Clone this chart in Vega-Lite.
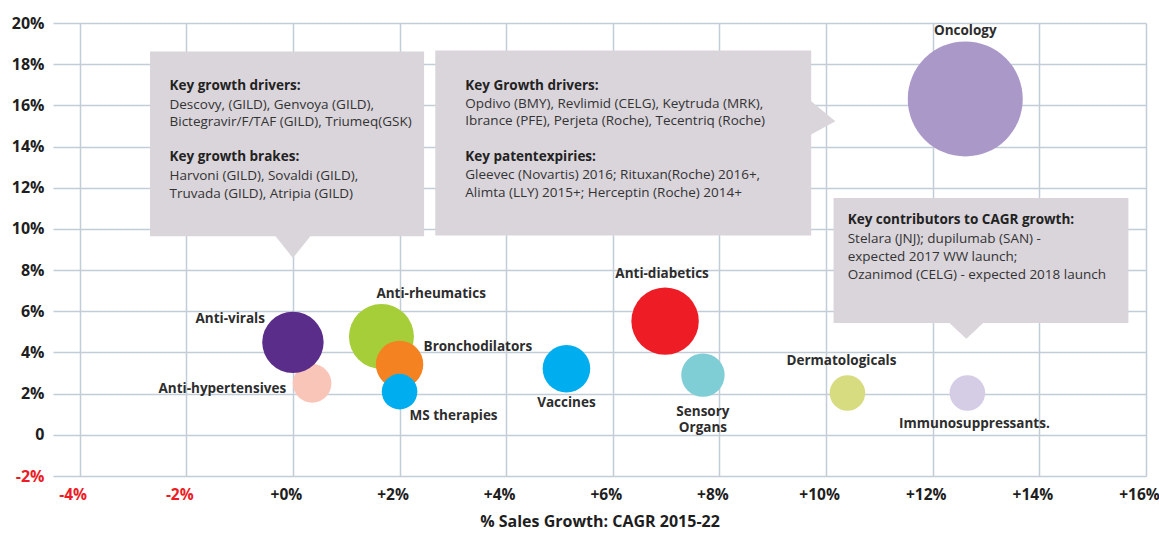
{
  "$schema": "https://vega.github.io/schema/vega-lite/v6.json",
  "autosize": {"type": "none"},
  "padding": {"left": 53, "top": 23, "right": 13, "bottom": 58},
  "width": 1093,
  "height": 453,
  "config": {"view": {"stroke": null}, "font": "Open Sans"},
  "data": {
    "values": [
      {"name": "Anti-hypertensives", "cagr": 0.36, "growth": 2.5, "sales": 37.2},
      {"name": "Anti-virals", "cagr": 0.0, "growth": 4.49, "sales": 94.2},
      {"name": "Anti-rheumatics", "cagr": 1.66, "growth": 4.77, "sales": 105.6},
      {"name": "Bronchodilators", "cagr": 2.0, "growth": 3.42, "sales": 56.2},
      {"name": "MS therapies", "cagr": 2.0, "growth": 2.1, "sales": 31.7},
      {"name": "Vaccines", "cagr": 5.13, "growth": 3.21, "sales": 56.6},
      {"name": "Anti-diabetics", "cagr": 6.98, "growth": 5.52, "sales": 113.6},
      {"name": "Sensory Organs", "cagr": 7.69, "growth": 2.9, "sales": 47.1},
      {"name": "Dermatologicals", "cagr": 10.4, "growth": 2.03, "sales": 31.7},
      {"name": "Immunosuppressants.", "cagr": 12.65, "growth": 2.03, "sales": 31.7},
      {"name": "Oncology", "cagr": 12.61, "growth": 16.31, "sales": 330.6}
    ]
  },
  "layer": [
    {
      "mark": {"type": "circle", "opacity": 1},
      "encoding": {
        "x": {
          "field": "cagr", "type": "quantitative",
          "scale": {"domain": [-4.5, 16], "nice": false, "zero": false},
          "axis": {
            "values": [-4, -2, 0, 2, 4, 6, 8, 10, 12, 14, 16],
            "labelExpr": "datum.value < 0 ? datum.value + '%' : '+' + datum.value + '%'",
            "labelColor": {"condition": {"test": "datum.value < 0", "value": "#ed1c24"}, "value": "#1e1e1e"},
            "labelFont": "Open Sans", "labelFontSize": 15.5, "labelFontWeight": "bold",
            "labelPadding": 11, "labelOffset": -7, "labelFlush": false, "labelOverlap": false, "labelBound": false,
            "domain": false, "ticks": false,
            "grid": true, "gridColor": "#c3cdd7", "gridWidth": 1.5,
            "title": "% Sales Growth: CAGR 2015-22",
            "titleFont": "Open Sans", "titleFontSize": 16, "titleFontWeight": "bold", "titleColor": "#1e1e1e",
            "titlePadding": 11
          }
        },
        "y": {
          "field": "growth", "type": "quantitative",
          "scale": {"domain": [-2, 20], "nice": false, "zero": false},
          "axis": {
            "values": [-2, 0, 2, 4, 6, 8, 10, 12, 14, 16, 18, 20],
            "labelExpr": "datum.value == 0 ? '0' : datum.value + '%'",
            "labelColor": {"condition": {"test": "datum.value < 0", "value": "#ed1c24"}, "value": "#1e1e1e"},
            "labelFont": "Open Sans", "labelFontSize": 16, "labelFontWeight": "bold",
            "labelPadding": 9, "labelFlush": false, "labelOverlap": false,
            "domain": false, "ticks": false,
            "grid": true, "gridColor": "#c3cdd7", "gridWidth": 1.5,
            "title": null
          }
        },
        "size": {
          "field": "sales", "type": "quantitative",
          "scale": {"type": "linear", "domain": [0, 100], "range": [0, 4000]},
          "legend": null
        },
        "color": {
          "field": "name", "type": "nominal", "legend": null,
          "scale": {
            "domain": ["Anti-hypertensives", "Anti-virals", "Anti-rheumatics", "Bronchodilators", "MS therapies", "Vaccines", "Anti-diabetics", "Sensory Organs", "Dermatologicals", "Immunosuppressants.", "Oncology"],
            "range": ["#f9c5b8", "#5a2d8a", "#a6ce39", "#f58220", "#00aeef", "#00aeef", "#ee1c25", "#7fcdd5", "#d7dc80", "#d5cce6", "#aa98c9"]
          }
        }
      }
    },
    {
      "transform": [{"filter": "datum.name == 'Anti-virals'"}],
      "mark": {"type": "text", "align": "right", "baseline": "middle", "dx": -28, "dy": -23, "fontSize": 13.5, "fontWeight": "bold", "color": "#2d2d2d"},
      "encoding": {"x": {"field": "cagr", "type": "quantitative"}, "y": {"field": "growth", "type": "quantitative"}, "text": {"field": "name"}}
    },
    {
      "transform": [{"filter": "datum.name == 'Anti-hypertensives'"}],
      "mark": {"type": "text", "align": "right", "baseline": "middle", "dx": -26, "dy": 5.5, "fontSize": 13.5, "fontWeight": "bold", "color": "#2d2d2d"},
      "encoding": {"x": {"field": "cagr", "type": "quantitative"}, "y": {"field": "growth", "type": "quantitative"}, "text": {"field": "name"}}
    },
    {
      "transform": [{"filter": "datum.name == 'Anti-rheumatics'"}],
      "mark": {"type": "text", "align": "left", "baseline": "middle", "dx": -5, "dy": -43, "fontSize": 13.5, "fontWeight": "bold", "color": "#2d2d2d"},
      "encoding": {"x": {"field": "cagr", "type": "quantitative"}, "y": {"field": "growth", "type": "quantitative"}, "text": {"field": "name"}}
    },
    {
      "transform": [{"filter": "datum.name == 'Bronchodilators'"}],
      "mark": {"type": "text", "align": "left", "baseline": "middle", "dx": 24, "dy": -17, "fontSize": 13.5, "fontWeight": "bold", "color": "#2d2d2d"},
      "encoding": {"x": {"field": "cagr", "type": "quantitative"}, "y": {"field": "growth", "type": "quantitative"}, "text": {"field": "name"}}
    },
    {
      "transform": [{"filter": "datum.name == 'MS therapies'"}],
      "mark": {"type": "text", "align": "left", "baseline": "middle", "dx": 10, "dy": 24, "fontSize": 13.5, "fontWeight": "bold", "color": "#2d2d2d"},
      "encoding": {"x": {"field": "cagr", "type": "quantitative"}, "y": {"field": "growth", "type": "quantitative"}, "text": {"field": "name"}}
    },
    {
      "transform": [{"filter": "datum.name == 'Vaccines'"}],
      "mark": {"type": "text", "align": "center", "baseline": "middle", "dx": 0, "dy": 34, "fontSize": 13.5, "fontWeight": "bold", "color": "#2d2d2d"},
      "encoding": {"x": {"field": "cagr", "type": "quantitative"}, "y": {"field": "growth", "type": "quantitative"}, "text": {"field": "name"}}
    },
    {
      "transform": [{"filter": "datum.name == 'Anti-diabetics'"}],
      "mark": {"type": "text", "align": "center", "baseline": "middle", "dx": -3, "dy": -47, "fontSize": 13.5, "fontWeight": "bold", "color": "#2d2d2d"},
      "encoding": {"x": {"field": "cagr", "type": "quantitative"}, "y": {"field": "growth", "type": "quantitative"}, "text": {"field": "name"}}
    },
    {
      "transform": [{"filter": "datum.name == 'Sensory Organs'"}],
      "mark": {"type": "text", "align": "center", "baseline": "middle", "dx": 0, "dy": 36.5, "lineBreak": " ", "lineHeight": 16, "fontSize": 13.5, "fontWeight": "bold", "color": "#2d2d2d"},
      "encoding": {"x": {"field": "cagr", "type": "quantitative"}, "y": {"field": "growth", "type": "quantitative"}, "text": {"field": "name"}}
    },
    {
      "transform": [{"filter": "datum.name == 'Dermatologicals'"}],
      "mark": {"type": "text", "align": "center", "baseline": "middle", "dx": -6, "dy": -31.6, "fontSize": 13.5, "fontWeight": "bold", "color": "#2d2d2d"},
      "encoding": {"x": {"field": "cagr", "type": "quantitative"}, "y": {"field": "growth", "type": "quantitative"}, "text": {"field": "name"}}
    },
    {
      "transform": [{"filter": "datum.name == 'Immunosuppressants.'"}],
      "mark": {"type": "text", "align": "center", "baseline": "middle", "dx": 7, "dy": 31, "fontSize": 13.5, "fontWeight": "bold", "color": "#2d2d2d"},
      "encoding": {"x": {"field": "cagr", "type": "quantitative"}, "y": {"field": "growth", "type": "quantitative"}, "text": {"field": "name"}}
    },
    {
      "transform": [{"filter": "datum.name == 'Oncology'"}],
      "mark": {"type": "text", "align": "center", "baseline": "middle", "dx": 0, "dy": -67.5, "fontSize": 13.5, "fontWeight": "bold", "color": "#2d2d2d"},
      "encoding": {"x": {"field": "cagr", "type": "quantitative"}, "y": {"field": "growth", "type": "quantitative"}, "text": {"field": "name"}}
    },
    {
      "data": {"values": [{}]},
      "mark": {"type": "rect", "color": "#dad5db"},
      "encoding": {"x": {"datum": -2.68, "type": "quantitative"}, "x2": {"datum": 2.46}, "y": {"datum": 18.62, "type": "quantitative"}, "y2": {"datum": 9.64}}
    },
    {
      "data": {"values": [{}]},
      "mark": {"type": "point", "shape": "M-1,-0.7L1,-0.7L0,0.558Z", "filled": true, "opacity": 1, "color": "#dad5db", "size": 1498, "strokeWidth": 0},
      "encoding": {"x": {"datum": 0, "type": "quantitative"}, "y": {"datum": 9.11, "type": "quantitative"}}
    },
    {
      "data": {"values": [{}]},
      "mark": {"type": "rect", "color": "#dad5db"},
      "encoding": {"x": {"datum": 2.67, "type": "quantitative"}, "x2": {"datum": 9.72}, "y": {"datum": 18.67, "type": "quantitative"}, "y2": {"datum": 9.68}}
    },
    {
      "data": {"values": [{}]},
      "mark": {"type": "point", "shape": "M-0.8,-1L0.65,0.2L-0.8,1Z", "filled": true, "opacity": 1, "color": "#dad5db", "size": 1347, "strokeWidth": 0},
      "encoding": {"x": {"datum": 9.95, "type": "quantitative"}, "y": {"datum": 15.41, "type": "quantitative"}}
    },
    {
      "data": {"values": [{}]},
      "mark": {"type": "rect", "color": "#dad5db"},
      "encoding": {"x": {"datum": 10.14, "type": "quantitative"}, "x2": {"datum": 15.67}, "y": {"datum": 11.5, "type": "quantitative"}, "y2": {"datum": 5.43}}
    },
    {
      "data": {"values": [{}]},
      "mark": {"type": "point", "shape": "M-1,-0.55L1,-0.55L0,0.377Z", "filled": true, "opacity": 1, "color": "#dad5db", "size": 1739, "strokeWidth": 0},
      "encoding": {"x": {"datum": 12.63, "type": "quantitative"}, "y": {"datum": 5.05, "type": "quantitative"}}
    },
    {
      "data": {"values": [{}]},
      "mark": {"type": "text", "align": "left", "baseline": "middle", "fontSize": 13.5, "fontWeight": "bold", "color": "#222222"},
      "encoding": {"x": {"datum": -2.315, "type": "quantitative"}, "y": {"datum": 16.95, "type": "quantitative"}, "text": {"value": "Key growth drivers:"}}
    },
    {
      "data": {"values": [{}]},
      "mark": {"type": "text", "align": "left", "baseline": "middle", "fontSize": 13.5, "lineHeight": 17, "color": "#333333"},
      "encoding": {"x": {"datum": -2.315, "type": "quantitative"}, "y": {"datum": 16.03, "type": "quantitative"}, "text": {"value": ["Descovy, (GILD), Genvoya (GILD),", "Bictegravir/F/TAF (GILD), Triumeq(GSK)"]}}
    },
    {
      "data": {"values": [{}]},
      "mark": {"type": "text", "align": "left", "baseline": "middle", "fontSize": 13.5, "fontWeight": "bold", "color": "#222222"},
      "encoding": {"x": {"datum": -2.315, "type": "quantitative"}, "y": {"datum": 13.47, "type": "quantitative"}, "text": {"value": "Key growth brakes:"}}
    },
    {
      "data": {"values": [{}]},
      "mark": {"type": "text", "align": "left", "baseline": "middle", "fontSize": 13.5, "lineHeight": 18, "color": "#333333"},
      "encoding": {"x": {"datum": -2.315, "type": "quantitative"}, "y": {"datum": 12.59, "type": "quantitative"}, "text": {"value": ["Harvoni (GILD), Sovaldi (GILD),", "Truvada (GILD), Atripia (GILD)"]}}
    },
    {
      "data": {"values": [{}]},
      "mark": {"type": "text", "align": "left", "baseline": "middle", "fontSize": 13.5, "fontWeight": "bold", "color": "#222222"},
      "encoding": {"x": {"datum": 3.233, "type": "quantitative"}, "y": {"datum": 16.95, "type": "quantitative"}, "text": {"value": "Key Growth drivers:"}}
    },
    {
      "data": {"values": [{}]},
      "mark": {"type": "text", "align": "left", "baseline": "middle", "fontSize": 13.5, "lineHeight": 17.5, "color": "#333333"},
      "encoding": {"x": {"datum": 3.233, "type": "quantitative"}, "y": {"datum": 16.08, "type": "quantitative"}, "text": {"value": ["Opdivo (BMY), Revlimid (CELG), Keytruda (MRK),", "Ibrance (PFE), Perjeta (Roche), Tecentriq (Roche)"]}}
    },
    {
      "data": {"values": [{}]},
      "mark": {"type": "text", "align": "left", "baseline": "middle", "fontSize": 13.5, "fontWeight": "bold", "color": "#222222"},
      "encoding": {"x": {"datum": 3.233, "type": "quantitative"}, "y": {"datum": 13.49, "type": "quantitative"}, "text": {"value": "Key patentexpiries:"}}
    },
    {
      "data": {"values": [{}]},
      "mark": {"type": "text", "align": "left", "baseline": "middle", "fontSize": 13.5, "lineHeight": 18, "color": "#333333"},
      "encoding": {"x": {"datum": 3.233, "type": "quantitative"}, "y": {"datum": 12.6, "type": "quantitative"}, "text": {"value": ["Gleevec (Novartis) 2016; Rituxan(Roche) 2016+,", "Alimta (LLY) 2015+; Herceptin (Roche) 2014+"]}}
    },
    {
      "data": {"values": [{}]},
      "mark": {"type": "text", "align": "left", "baseline": "middle", "fontSize": 13.5, "fontWeight": "bold", "color": "#222222"},
      "encoding": {"x": {"datum": 10.405, "type": "quantitative"}, "y": {"datum": 10.41, "type": "quantitative"}, "text": {"value": "Key contributors to CAGR growth:"}}
    },
    {
      "data": {"values": [{}]},
      "mark": {"type": "text", "align": "left", "baseline": "middle", "fontSize": 13.5, "lineHeight": 17.8, "color": "#333333"},
      "encoding": {"x": {"datum": 10.405, "type": "quantitative"}, "y": {"datum": 9.51, "type": "quantitative"}, "text": {"value": ["Stelara (JNJ); dupilumab (SAN) -", "expected 2017 WW launch;", "Ozanimod (CELG) - expected 2018 launch"]}}
    }
  ]
}
